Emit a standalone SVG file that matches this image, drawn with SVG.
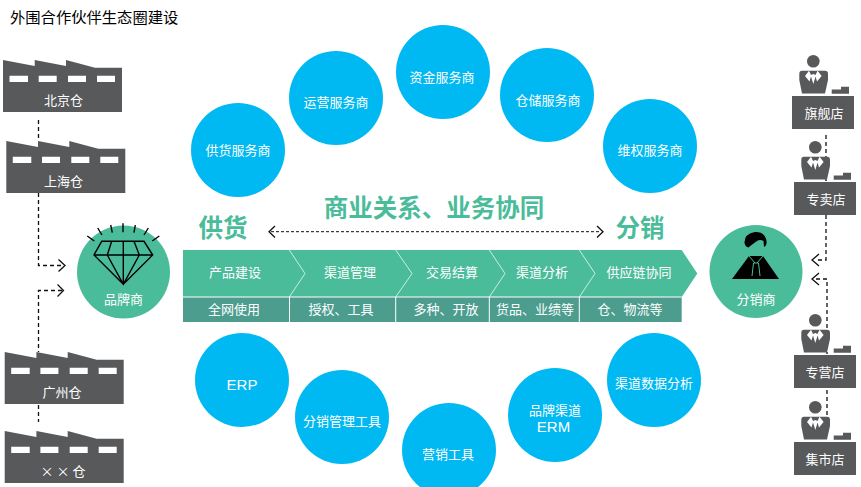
<svg xmlns="http://www.w3.org/2000/svg" width="861" height="487" viewBox="0 0 861 487">
<style>
text{font-family:"Noto Sans CJK SC","Noto Sans",sans-serif;text-anchor:middle}
.w{fill:#fff;font-size:13px}
.l{font-family:"Liberation Sans",sans-serif;font-size:15px}
.g{fill:#4bbc9a;font-size:24.500px;font-weight:700}
.t{fill:#000;font-size:15.300px;text-anchor:start}
.b{fill:#00b9f2}
.c{fill:#4bbc9a}
.d{fill:#58595b}
.dash{fill:none;stroke:#111;stroke-width:1.3;stroke-dasharray:4 3}
.dash2{fill:none;stroke:#111;stroke-width:1;stroke-dasharray:3 2}
.ar{fill:none;stroke:#111;stroke-width:1.3}
.sep{fill:none;stroke:#c9eee2;stroke-width:1}
.lw{fill:none;stroke:#fff;stroke-width:1}
.gem{fill:none;stroke:#000;stroke-width:1.400}
</style>
<defs>
<g id="factory">
<path class="d" d="M3 60L34.700 66V60L66 66V60L95 67.700H122V112H3Z"/>
<path fill="#fff" d="M9.500 75.700H28V82H9.500ZM38.700 75.700H56.700V82H38.700ZM68 75.700H86V82H68ZM97 75.700H115V82H97Z"/>
</g>
<g id="person">
<circle class="d" cx="813.300" cy="61.300" r="6.300"/>
<path class="d" d="M802 70.700H825Q828 70.700 828 74V80L825 93.500H802L799.300 80V74Q799.300 70.700 802 70.700Z"/>
<path fill="#fff" d="M809 70.700L805 76 809.500 81.500 811 76.500 813.300 84 815.600 76.500 817 81.500 821.600 76 817.600 70.700 815.500 75 813.300 74 811 75Z"/>
<path class="d" d="M831.700 89.500H841V86.700H849V93.700H831.700Z"/>
</g>
</defs>
<text class="t" x="10" y="23">外围合作伙伴生态圈建设</text>
<g id="connectors">
<path class="dash" d="M38.500 120V140M38.500 193V265.500H62M62 290.500H38.500V352M38.500 405V422"/>
<path class="ar" d="M58.500 259.500L65 265.500 58.500 271.500M57.500 284.500L63.500 290.500 57.500 296.500"/>
<path class="dash" d="M826 135V182M826 215V260H816M816 279H827V354M827 390V416"/>
<path class="ar" d="M819 254L812 260 819 266M819 273L812 279 819 285"/>
<path class="dash2" d="M271 231.700H601"/>
<path class="ar" d="M275 226L269 231.700 275 237.500M597 226L603 231.700 597 237.500"/>
</g>
<g id="wh1"><use href="#factory"/><text class="w" x="63.500" y="105">北京仓</text></g>
<g id="wh2"><use href="#factory" x="3.300" y="81"/><text class="w" x="63.500" y="186">上海仓</text></g>
<g id="wh3"><use href="#factory" x="1.700" y="292"/><text class="w" x="62" y="397">广州仓</text></g>
<g id="wh4"><use href="#factory" x="1.700" y="371"/><text class="w" x="63" y="476">× × 仓</text></g>
<g id="brand">
<circle class="c" cx="123.500" cy="272" r="46.500"/>
<path class="gem" d="M101.700 241.300H144L152.700 255 123.300 284.300 94 255ZM94 255H152.700M111.700 241.300L107.300 255 123.300 284.300 139.300 255 134 241.300M123.300 241.300V284.300"/>
<path class="gem" d="M87.300 236L94.300 241M97.700 228L102 235M110.700 225L112.300 232.700M123 223.300V232.300M135.300 225L134 232.700M148.300 228L144 235M159.300 236L152.300 241"/>
<text class="w" x="123.500" y="304">品牌商</text>
</g>
<g id="s1"><circle class="b" cx="238" cy="150" r="47"/><text class="w" x="238" y="155">供货服务商</text></g>
<g id="s2"><circle class="b" cx="336" cy="98" r="47"/><text class="w" x="336" y="107">运营服务商</text></g>
<g id="s3"><circle class="b" cx="443" cy="72" r="47"/><text class="w" x="442" y="82">资金服务商</text></g>
<g id="s4"><circle class="b" cx="547" cy="95" r="47"/><text class="w" x="548" y="105">仓储服务商</text></g>
<g id="s5"><circle class="b" cx="650" cy="146" r="47"/><text class="w" x="650" y="155">维权服务商</text></g>
<g id="t1"><circle class="b" cx="242" cy="380" r="47"/><text class="w l" x="242" y="390">ERP</text></g>
<g id="t2"><circle class="b" cx="342" cy="417" r="47"/><text class="w" x="342" y="426">分销管理工具</text></g>
<g id="t3"><circle class="b" cx="449" cy="450" r="47"/><text class="w" x="448" y="459">营销工具</text></g>
<g id="t4"><circle class="b" cx="555" cy="415" r="47"/><text class="w" x="555" y="415">品牌渠道</text><text class="w l" x="553.500" y="432">ERM</text></g>
<g id="t5"><circle class="b" cx="654" cy="380" r="47"/><text class="w" x="654" y="388">渠道数据分析</text></g>
<g id="band">
<path class="c" d="M183 250H681.700L697.300 273.500 681.700 297H183Z"/>
<path fill="#4c9d8e" d="M183 297H681.700V322H183Z"/>
<path class="sep" d="M289.300 250L305 273.500 289.300 297M395.700 250L412 273.500 395.700 297M489.300 250L505 273.500 489.300 297M579.300 250L595 273.500 579.300 297"/>
<path class="lw" d="M183 297H681.700M289.500 297V322M395.700 297V322M489.300 297V322M579.300 297V322"/>
<text class="w" x="235" y="277">产品建设</text><text class="w" x="350" y="277">渠道管理</text><text class="w" x="452" y="277">交易结算</text><text class="w" x="542" y="277">渠道分析</text><text class="w" x="639" y="277">供应链协同</text>
<text class="w" x="234" y="314">全网使用</text><text class="w" x="341" y="314">授权、工具</text><text class="w" x="446" y="314">多种、开放</text><text class="w" x="535" y="314">货品、业绩等</text><text class="w" x="630" y="314">仓、物流等</text>
</g>
<text class="g" x="223" y="237">供货</text>
<text class="g" x="434" y="217">商业关系、业务协同</text>
<text class="g" x="640" y="237">分销</text>
<g id="dist">
<circle class="c" cx="756" cy="271.500" r="46.500"/>
<path d="M732 279L749 256H763L779 279Z"/>
<path d="M744.500 243Q744 234 755 232 765 231.500 766.500 241 767 246 764 247L763.500 241Q760 239 757 241 751 245 748.500 247.500 745.500 247 744.500 243Z"/>
<path fill="none" stroke="#4bbc9a" stroke-width="1" d="M749 256L755 263M763 256L757 263M753.500 263H758.500L760 276M753.500 263L752 276"/>
<text class="w" x="756" y="304">分销商</text>
</g>
<g id="r1"><use href="#person"/><rect class="d" x="792" y="96" width="62" height="33"/><text class="w" x="824" y="118">旗舰店</text></g>
<g id="r2"><use href="#person" x="2" y="86"/><rect class="d" x="794" y="182" width="62" height="33"/><text class="w" x="826" y="204">专卖店</text></g>
<g id="r3"><use href="#person" x="2" y="259"/><rect class="d" x="794" y="355" width="62" height="33"/><text class="w" x="825" y="377">专营店</text></g>
<g id="r4"><use href="#person" x="2" y="346"/><rect class="d" x="794" y="442" width="62" height="33"/><text class="w" x="825" y="464">集市店</text></g>
</svg>
